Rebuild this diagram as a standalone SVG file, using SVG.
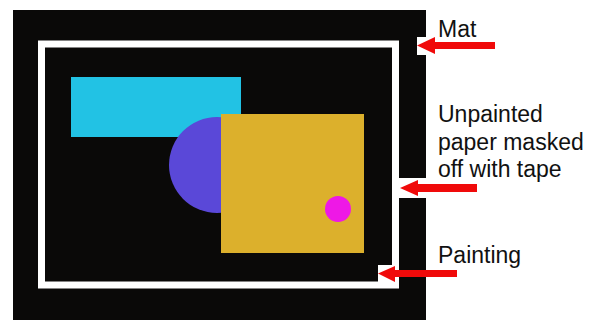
<svg xmlns="http://www.w3.org/2000/svg" width="597" height="320" viewBox="0 0 597 320">
  <style>
    .lbl { font-family: "Liberation Sans", Arial, sans-serif; font-size: 23px; fill: #111; }
    .arrow { fill: #f00a0a; }
    .cut { fill: #ffffff; }
  </style>
  <rect width="597" height="320" fill="#ffffff"/>
  <g id="mat">
    <rect x="13" y="10" width="413" height="310" fill="#0a0908"/>
  </g>
  <g id="tape">
    <rect x="41.5" y="44" width="354" height="241" fill="#0a0908" stroke="#ffffff" stroke-width="7"/>
  </g>
  <g id="painting">
    <rect x="71" y="77" width="170" height="60" fill="#22c2e4"/>
    <circle cx="217" cy="165" r="48" fill="#5a48d8"/>
    <rect x="221" y="114" width="143" height="139" fill="#dcb02c"/>
    <circle cx="338" cy="209" r="13" fill="#ee18e6"/>
  </g>
  <g id="connectors">
    <rect class="cut" x="417" y="37" width="9" height="18"/>
    <polygon class="arrow" points="417,45.5 435,37 435,42 495,42 495,49 435,49 435,54"/>
    <rect class="cut" x="399" y="178" width="27" height="20"/>
    <polygon class="arrow" points="400,188 418,180 418,184 477,184 477,192 418,192 418,196"/>
    <rect class="cut" x="378" y="265" width="21" height="18"/>
    <polygon class="arrow" points="378,273.5 395,266 395,270 457,270 457,277 395,277 395,282"/>
  </g>
  <g id="labels">
    <text class="lbl" x="438" y="37">Mat</text>
    <text class="lbl" x="438" y="122">Unpainted</text>
    <text class="lbl" x="438" y="149.5">paper masked</text>
    <text class="lbl" x="438" y="177">off with tape</text>
    <text class="lbl" x="438" y="263">Painting</text>
  </g>
</svg>
